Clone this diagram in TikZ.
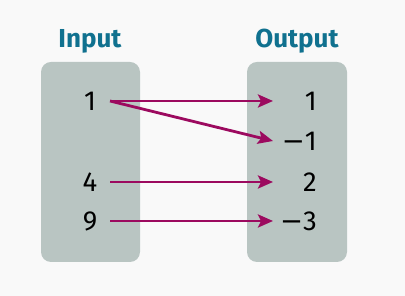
\documentclass[tikz,border=0pt]{standalone}
\usepackage{fontspec}
\setmainfont{Fira Sans}
\newfontfamily\minusfont{DejaVu Sans}
\newcommand{\mns}{{\minusfont −}}
\usetikzlibrary{arrows.meta}
\definecolor{bg}{HTML}{F9F9F9}
\definecolor{boxc}{HTML}{B9C5C2}
\definecolor{titlec}{HTML}{10718F}
\definecolor{arrc}{HTML}{9C0A5F}
\begin{document}
\begin{tikzpicture}[x=1pt,y=1pt,
  setbox/.style={fill=boxc,rounded corners=10pt,draw=none},
  title/.style={text=titlec,font=\fontsize{26}{26}\selectfont\bfseries,inner sep=0pt,anchor=base},
  num/.style={font=\fontsize{27.5}{27.5}\selectfont,inner sep=0pt,anchor=base},
  rnum/.style={num,anchor=base east},
  maparrow/.style={draw=arrc,line width=2.8pt,-{Stealth[length=15pt,width=13pt,inset=3pt]}}]
\fill[bg] (0,0) rectangle (405,296);
\useasboundingbox (0,0) rectangle (405,296);
\fill[setbox] (41,34) rectangle (140,234);
\fill[setbox] (247,34) rectangle (347,234);
\node[title] (tin) at (90,248) {Input};
\node[title] (tout) at (297,248) {Output};
\node[num] (i1) at (90,185) {1};
\node[num] (i4) at (90,104) {4};
\node[num] (i9) at (90,65) {9};
\node[rnum] (o1) at (317,185) {1};
\node[rnum] (om1) at (317,145) {\mns 1};
\node[rnum] (o2) at (317,104) {2};
\node[rnum] (om3) at (317,65) {\mns 3};
\coordinate (a1) at (110,195);
\coordinate (a4) at (110,114);
\coordinate (a9) at (110,75);
\coordinate (b1) at (273,195);
\coordinate (bm1) at (273,155);
\coordinate (b2) at (273,114);
\coordinate (bm3) at (273,75);
\draw[maparrow] (a1) -- (b1);
\draw[maparrow] (a1) -- (bm1);
\draw[maparrow] (a4) -- (b2);
\draw[maparrow] (a9) -- (bm3);
\end{tikzpicture}
\end{document}
